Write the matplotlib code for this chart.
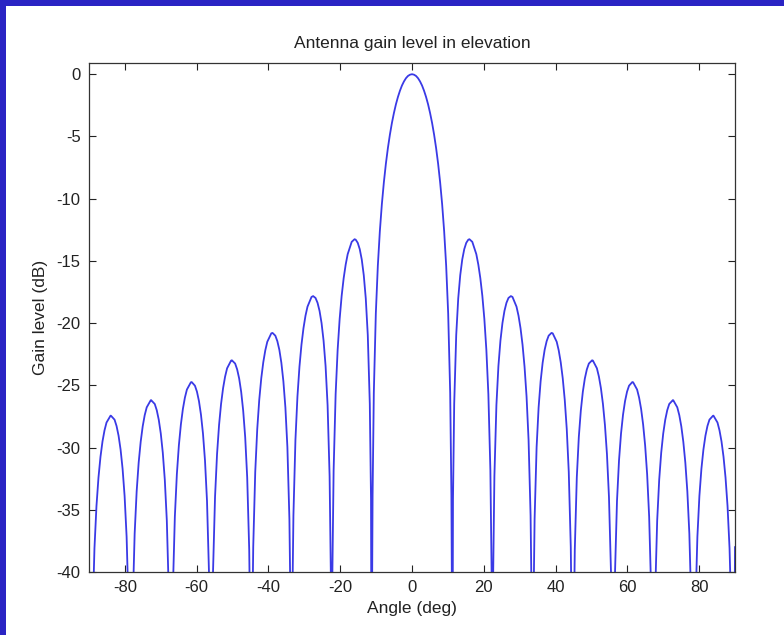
import matplotlib
matplotlib.use("Agg")
import matplotlib.pyplot as plt
from matplotlib.patches import Rectangle

plt.rcParams['font.family'] = ['Liberation Sans', 'DejaVu Sans']
plt.rcParams['axes.unicode_minus'] = False

# Right half of the pattern (angle in deg, gain in dB).
# The pattern is symmetric about 0 deg; the left half mirrors these values.
angle_right = [
    0.0, 1.12, 2.24, 3.36, 4.48, 5.6, 6.72, 7.84, 8.96, 9.52, 10.08, 10.64, 10.98, 11.09,
    11.2,
    11.42, 11.76, 12.32, 13.44, 14.56, 15.68, 16.0, 16.8, 17.92, 19.04, 20.16, 21.28, 21.84, 22.18,
    22.4,
    22.62, 22.96, 23.52, 24.64, 25.76, 26.88, 27.55, 28.0, 29.12, 30.24, 31.36, 32.48, 33.04, 33.38,
    33.6,
    33.82, 34.16, 34.72, 35.84, 36.96, 38.08, 38.86, 39.2, 40.32, 41.44, 42.56, 43.68, 44.24, 44.58,
    44.8,
    45.02, 45.36, 45.92, 47.04, 48.16, 49.28, 50.18, 50.4, 51.52, 52.64, 53.76, 54.88, 55.44, 55.78,
    56.0,
    56.22, 56.56, 57.12, 58.24, 59.36, 60.48, 61.38, 61.6, 62.72, 63.84, 64.96, 66.08, 66.64,
    67.2,
    67.76, 68.32, 69.44, 70.56, 71.68, 72.69, 72.8, 73.92, 75.04, 76.16, 77.28, 77.84,
    78.4,
    78.96, 79.52, 80.64, 81.76, 82.88, 83.89, 84.0, 85.12, 86.24, 87.36, 88.48, 89.04,
    89.6, 90.0,
]
gain_right = [
    0.0, -0.14, -0.58, -1.33, -2.42, -3.92, -5.94, -8.69, -12.62, -15.39, -19.23, -25.61, -33.81, -39.91,
    -60.0,
    -34.16, -26.48, -20.97, -16.15, -14.06, -13.30, -13.26, -13.47, -14.46, -16.39, -19.67, -25.72, -31.85, -39.92,
    -60.0,
    -40.09, -32.29, -26.59, -21.41, -19.02, -17.98, -17.83, -17.90, -18.68, -20.41, -23.51, -29.39, -35.45, -43.47,
    -60.0,
    -43.58, -35.74, -29.97, -24.67, -22.15, -21.01, -20.79, -20.82, -21.50, -23.15, -26.16, -31.96, -37.99, -45.98,
    -60.0,
    -46.07, -38.20, -32.40, -27.03, -24.45, -23.25, -22.99, -23.01, -23.63, -25.23, -28.19, -33.95, -39.95, -47.93,
    -60.0,
    -48.0, -40.12, -34.29, -28.88, -26.27, -25.03, -24.74, -24.75, -25.34, -26.90, -29.83, -35.56, -41.54,
    -60.0,
    -41.69, -35.85, -30.41, -27.77, -26.50, -26.19, -26.20, -26.77, -28.30, -31.21, -36.92, -42.89,
    -60.0,
    -43.02, -37.17, -31.71, -29.05, -27.76, -27.44, -27.44, -27.99, -29.51, -32.41, -38.10, -44.06,
    -60.0, -38.0,
]
# extra readings in between, to follow the rounded lobe tops
angle_right_extra = [
    0.56, 1.68, 2.8, 3.92, 5.04, 6.16, 7.28, 8.4,
    12.88, 14.0, 15.12, 18.48, 19.6, 20.72,
    24.08, 25.2, 26.32, 29.68, 30.8, 31.92,
    35.28, 36.4, 37.52, 40.88, 42.0, 43.12,
    46.48, 47.6, 48.72, 52.08, 53.2, 54.32,
    57.68, 58.8, 59.92, 63.28, 64.4, 65.52,
    68.88, 70.0, 71.12, 74.48, 75.6, 76.72,
    80.08, 81.2, 82.32, 85.68, 86.8, 87.92,
]
gain_right_extra = [
    -0.04, -0.32, -0.91, -1.83, -3.12, -4.86, -7.20, -10.45,
    -18.02, -14.89, -13.55, -15.30, -17.81, -22.15,
    -23.45, -20.00, -18.37, -19.41, -21.74, -25.90,
    -26.77, -23.19, -21.45, -22.19, -24.43, -28.51,
    -29.16, -25.52, -23.72, -24.30, -26.49, -30.52,
    -31.04, -27.36, -25.51, -25.99, -28.15, -32.15,
    -32.58, -28.87, -27.00, -27.40, -29.54, -33.52,
    -33.89, -30.16, -28.27, -28.62, -30.74, -34.70,
]

x_ticks = [-80, -60, -40, -20, 0, 20, 40, 60, 80]
y_ticks = [0, -5, -10, -15, -20, -25, -30, -35, -40]

pairs = sorted(zip(angle_right + angle_right_extra, gain_right + gain_right_extra))
right_a = [p[0] for p in pairs]
right_g = [p[1] for p in pairs]
angles = [-a for a in right_a[:0:-1]] + right_a
gains = right_g[:0:-1] + right_g

fig = plt.figure(figsize=(7.84, 6.35), dpi=100)
fig.patch.set_facecolor('white')
border = '#2a24c4'
# blue slide border: top band and left band
fig.patches.append(Rectangle((0, 1 - 6 / 635), 1, 6 / 635, transform=fig.transFigure,
                             facecolor=border, edgecolor='none'))
fig.patches.append(Rectangle((0, 0), 6 / 784, 1, transform=fig.transFigure,
                             facecolor=border, edgecolor='none'))

ax = fig.add_axes([89 / 784, 1 - 572 / 635, (735 - 89) / 784, (572 - 63) / 635])
ax.plot(angles, gains, color='#3a3ae6', lw=1.3, clip_on=True)
ax.set_xlim(-90, 90)
ax.set_ylim(-40, 0.9)
ax.set_xticks(x_ticks)
ax.set_yticks(y_ticks)
ax.tick_params(direction='in', top=True, right=True, length=5, width=0.8,
               labelsize=12, colors='#222222', pad=6)
for s in ax.spines.values():
    s.set_color('#333333')
    s.set_linewidth(0.9)
ax.set_title('Antenna gain level in elevation', fontsize=12.5, color='#222222', pad=11)
ax.set_xlabel('Angle (deg)', fontsize=12.5, color='#222222', labelpad=4)
ax.set_ylabel('Gain level (dB)', fontsize=12.5, color='#222222', labelpad=6)

fig.savefig('out.png', dpi=100)
